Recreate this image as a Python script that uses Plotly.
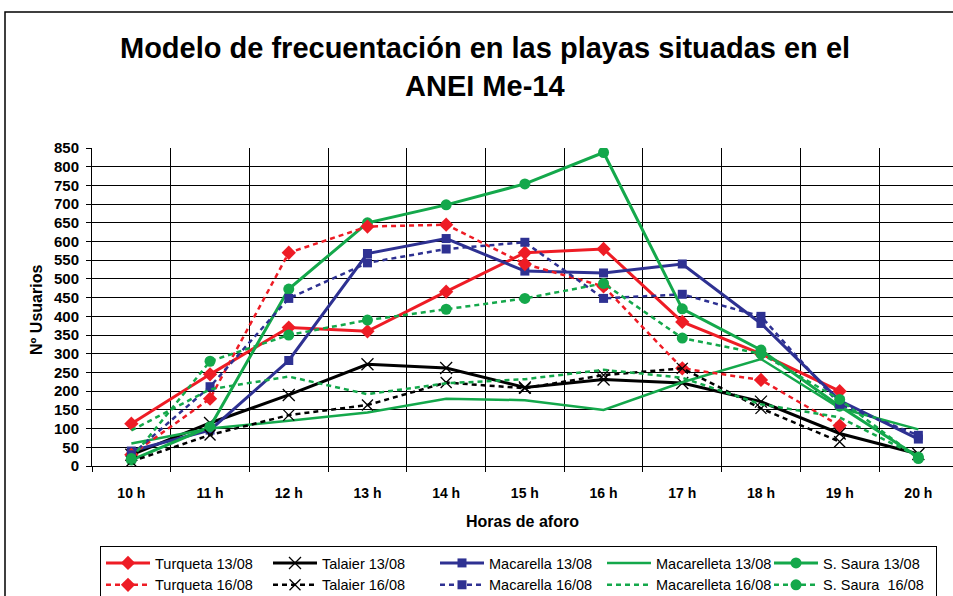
import plotly.graph_objects as go

hours = ["10 h", "11 h", "12 h", "13 h", "14 h", "15 h", "16 h", "17 h", "18 h", "19 h", "20 h"]

turqueta_13 = [113, 245, 370, 360, 466, 570, 580, 385, 300, 200, None]
turqueta_16 = [30, 180, 570, 640, 645, 540, 480, 261, 230, 108, None]
talaier_13 = [30, 115, 190, 272, 262, 210, 231, 222, 172, 87, 32]
talaier_16 = [12, 83, 136, 163, 223, 208, 243, 261, 154, 65, None]
macarella_13 = [40, 96, 282, 568, 608, 521, 516, 540, 381, 175, 72]
macarella_16 = [30, 212, 448, 543, 580, 598, 448, 459, 400, 165, 82]
macarelleta_13 = [60, 100, 121, 143, 180, 176, 150, 224, 286, 155, 98]
macarelleta_16 = [95, 205, 239, 192, 221, 232, 257, 236, 165, 130, 25]
saura_13 = [16, 105, 473, 650, 698, 754, 838, 420, 310, 160, 24]
saura_16 = [20, 280, 350, 390, 419, 448, 488, 342, 300, 178, 20]

RED = "#EE1C25"
BLUE = "#2E3192"
GREEN = "#14A84B"
BLACK = "#000000"
DASH = "5px,4px"

series = [
    ("Turqueta 13/08", turqueta_13, RED, "solid", "diamond", 11, 3),
    ("Talaier 13/08", talaier_13, BLACK, "solid", "x-thin-open", 12, 3),
    ("Macarella 13/08", macarella_13, BLUE, "solid", "square", 9, 3),
    ("Macarelleta 13/08", macarelleta_13, GREEN, "solid", None, 0, 2.5),
    ("S. Saura 13/08", saura_13, GREEN, "solid", "circle", 11, 3),
    ("Turqueta 16/08", turqueta_16, RED, DASH, "diamond", 11, 2.5),
    ("Talaier 16/08", talaier_16, BLACK, DASH, "x-thin-open", 11, 2.5),
    ("Macarella 16/08", macarella_16, BLUE, DASH, "square", 9, 2.5),
    ("Macarelleta 16/08", macarelleta_16, GREEN, DASH, None, 0, 2.5),
    ("S. Saura  16/08", saura_16, GREEN, DASH, "circle", 11, 2.5),
]

fig = go.Figure()
for name, vals, col, dash, sym, size, lw in series:
    if sym is None:
        mode = "lines"
        marker = None
    else:
        mode = "lines+markers"
        if sym == "x-thin-open":
            marker = dict(symbol=sym, size=size, color=col, line=dict(color=col, width=1.3))
        else:
            marker = dict(symbol=sym, size=size, color=col, line=dict(width=0))
    fig.add_trace(go.Scatter(
        x=hours, y=vals, name=name, mode=mode,
        line=dict(color=col, width=lw, dash=dash),
        marker=marker, connectgaps=False,
    ))

FONT = "Liberation Sans, Arial, sans-serif"
L, T, W, H = 92, 148, 953, 596
PW = W - L
PH = 466 - T

def px(x):
    return (x - L) / PW

def py(y):
    return (466 - y) / PH

fig.update_layout(
    width=W, height=H,
    margin=dict(l=L, r=0, t=T, b=H - 466, autoexpand=False),
    paper_bgcolor="white", plot_bgcolor="white",
    font=dict(family=FONT, color="black"),
    showlegend=True,
    legend=dict(
        orientation="h", x=px(100), y=py(546), xanchor="left", yanchor="top",
        bgcolor="white", bordercolor="black", borderwidth=1,
        font=dict(family=FONT, size=14.5, color="black"),
        entrywidth=108, itemwidth=44, traceorder="normal",
    ),
    xaxis=dict(
        type="category", range=[-0.5, 10.44], tickson="boundaries",
        showgrid=True, gridcolor="black", gridwidth=1,
        showline=True, linecolor="black", linewidth=1,
        ticks="outside", ticklen=5, tickcolor="black",
        tickfont=dict(family=FONT, size=14, color="black", weight="bold"),
        ticklabelstandoff=14, automargin=False,
    ),
    yaxis=dict(
        range=[0, 850], dtick=50, tick0=0,
        showgrid=True, gridcolor="black", gridwidth=1,
        showline=True, linecolor="black", linewidth=1, zeroline=False,
        ticks="outside", ticklen=5, tickcolor="black",
        tickfont=dict(family=FONT, size=15, color="black", weight="bold"),
        ticklabelstandoff=4, automargin=False,
    ),
    annotations=[
        dict(text="<b>Modelo de frecuentación en las playas situadas en el</b>",
             xref="paper", yref="paper", x=px(485), y=py(48), showarrow=False,
             font=dict(family=FONT, size=29, color="black"), xanchor="center", yanchor="middle"),
        dict(text="<b>ANEI Me-14</b>",
             xref="paper", yref="paper", x=px(485), y=py(86), showarrow=False,
             font=dict(family=FONT, size=29, color="black"), xanchor="center", yanchor="middle"),
        dict(text="<b>Nº Usuarios</b>", textangle=-90,
             xref="paper", yref="paper", x=px(36), y=py(310), showarrow=False,
             font=dict(family=FONT, size=16, color="black"), xanchor="center", yanchor="middle"),
        dict(text="<b>Horas de aforo</b>",
             xref="paper", yref="paper", x=px(522), y=py(521), showarrow=False,
             font=dict(family=FONT, size=16, color="black"), xanchor="center", yanchor="middle"),
    ],
    shapes=[
        dict(type="rect", xref="paper", yref="paper",
             x0=px(5), x1=px(1000), y0=py(12), y1=py(700),
             line=dict(color="black", width=1.5), fillcolor="rgba(0,0,0,0)", layer="below"),
    ],
)

fig.write_html(
    "out.html",
    config={"displayModeBar": False},
    post_script="document.body.style.margin='0';document.body.style.overflow='hidden';",
)
